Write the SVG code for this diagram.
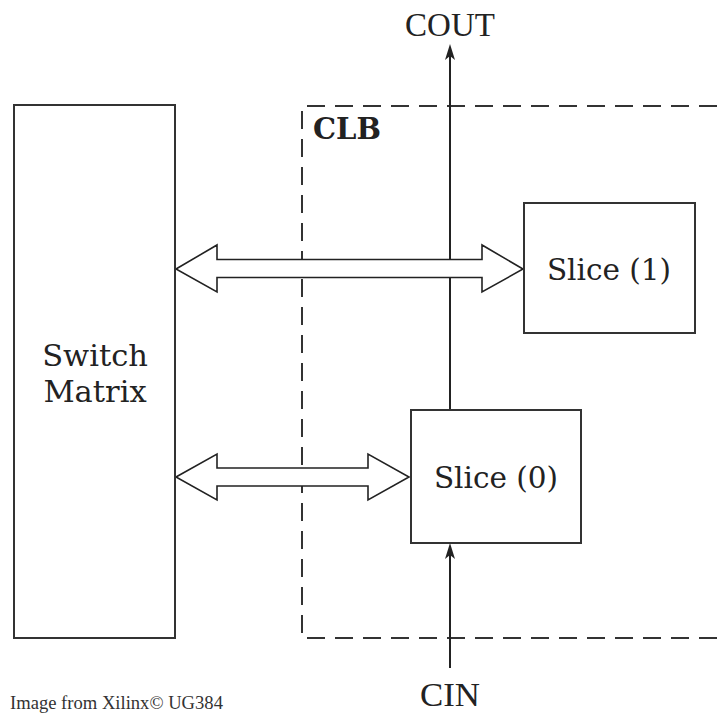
<svg xmlns="http://www.w3.org/2000/svg" width="717" height="716" viewBox="0 0 717 716">
<style>
.box{fill:#fff;stroke:#333;stroke-width:2}
.dash{fill:none;stroke:#333;stroke-width:2;stroke-dasharray:18 10}
.wire{stroke:#222;stroke-width:2;fill:none}
.head{fill:#222}
.dbl{fill:#fff;stroke:#222;stroke-width:1.6;stroke-linejoin:miter}
.lbl{font-family:'DejaVu Serif',serif;fill:#222;text-anchor:middle}
.pin{font-family:'Liberation Serif',serif;fill:#222;text-anchor:middle;font-size:33px}
</style>
<g id="clb">
<path class="dash" d="M717 106 H302 V638 H717"/>
<text x="313" y="139" font-family="DejaVu Serif, serif" font-weight="bold" font-size="29" fill="#222">CLB</text>
</g>
<g id="connectors">
<line class="wire" x1="450" y1="410" x2="450" y2="50"/>
<path class="head" d="M450 44 L455 60 L450 56 L445 60 Z"/>
<line class="wire" x1="450" y1="668" x2="450" y2="550"/>
<path class="head" d="M450 543 L455 559 L450 555 L445 559 Z"/>
<path class="dbl" d="M176 269 L217 245 V259.5 H482 V245 L523 269 L482 292 V277.5 H217 V292 Z"/>
<path class="dbl" d="M176 477 L217 454 V468 H368 V454 L409 477 L368 500 V486 H217 V500 Z"/>
</g>
<g id="switch-matrix">
<rect class="box" x="14" y="105" width="161" height="533"/>
<text class="lbl" x="95" y="366" font-size="30.5" font-family="DejaVu Serif, serif">Switch</text>
<text class="lbl" x="95" y="402" font-size="30.5" font-family="DejaVu Serif, serif">Matrix</text>
</g>
<g id="slice1">
<rect class="box" x="524" y="203" width="171" height="130"/>
<text class="lbl" x="609" y="280" font-size="29.5" font-family="DejaVu Serif, serif">Slice (1)</text>
</g>
<g id="slice0">
<rect class="box" x="411" y="410" width="170" height="133"/>
<text class="lbl" x="496" y="488" font-size="29.5" font-family="DejaVu Serif, serif">Slice (0)</text>
</g>
<g id="cout"><text class="pin" x="450" y="36">COUT</text></g>
<g id="cin"><text class="pin" x="450" y="706" font-size="31" textLength="60" lengthAdjust="spacingAndGlyphs">CIN</text></g>
<text x="10" y="709" font-family="Liberation Serif, serif" font-size="18.6" fill="#333">Image from Xilinx© UG384</text>
</svg>
